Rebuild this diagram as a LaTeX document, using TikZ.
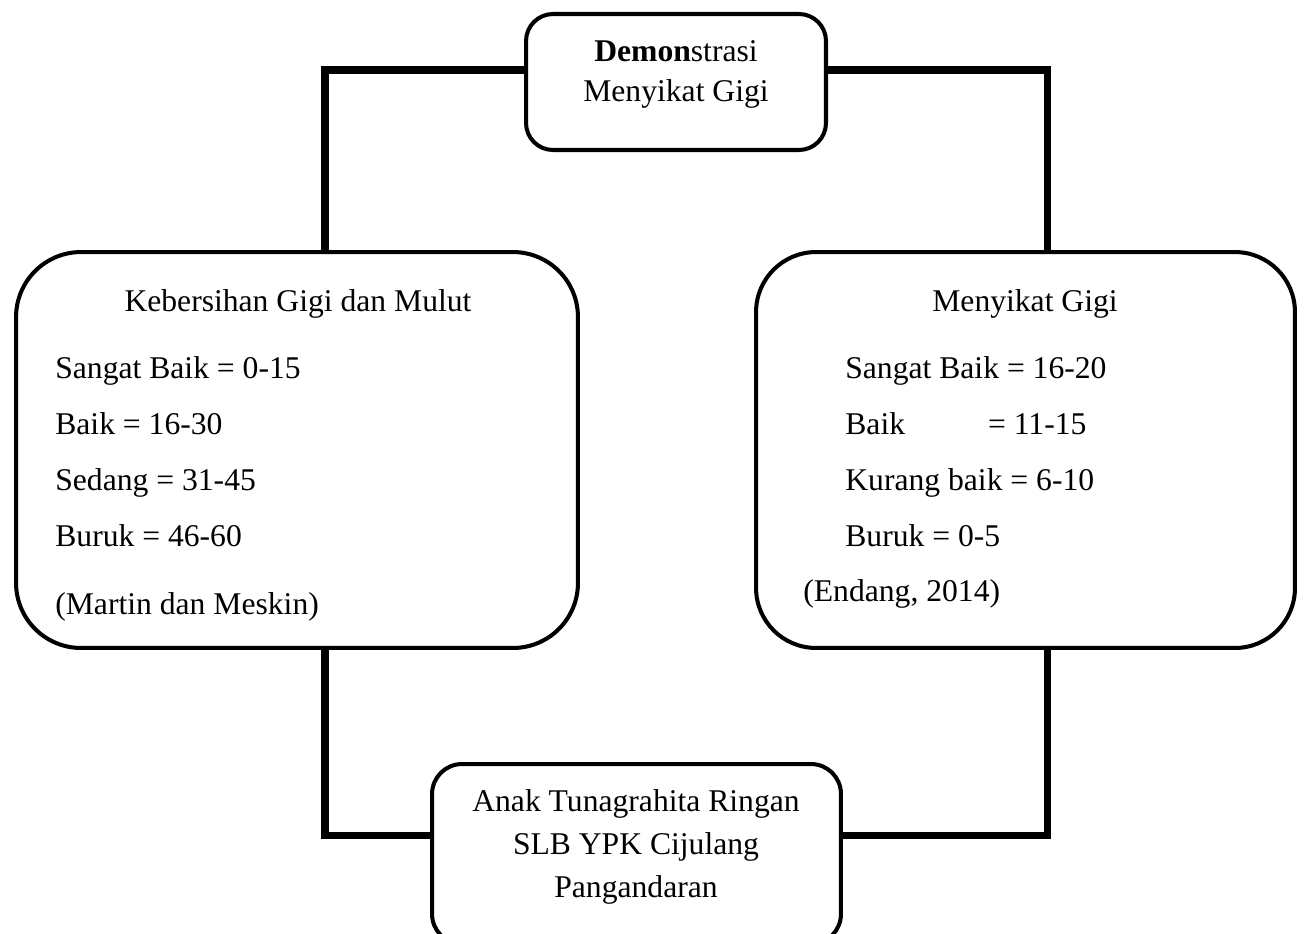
\documentclass[tikz,border=0pt]{standalone}
\usepackage{fontspec}
\setmainfont{Liberation Serif}
\usepackage{tikz}
\usetikzlibrary{positioning, calc}

\begin{document}
\begin{tikzpicture}[
    x=0.02cm, y=-0.02cm,
    block/.style={rectangle, draw, line width=2.3pt, inner sep=0pt},
    line/.style={draw, line width=4pt},
    txt/.style={inner sep=0pt, font=\fontsize{18pt}{22pt}\selectfont},
    item/.style={txt, anchor=base west},
    title/.style={txt, anchor=base}
]
\useasboundingbox (0,0) rectangle (1307,933);
\clip (0,0) rectangle (1307,933);

% Boxes
\node[block, minimum width=6.0cm, minimum height=2.72cm, rounded corners=0.54cm] (demo) at (676,82) {};
\node[block, minimum width=11.24cm, minimum height=7.92cm, rounded corners=1.3cm] (kgm) at (297,450) {};
\node[block, minimum width=10.78cm, minimum height=7.92cm, rounded corners=1.2cm] (sikat) at (1025.5,450) {};
\node[block, minimum width=8.18cm, minimum height=3.6cm, rounded corners=0.6cm] (anak) at (636.5,854) {};

% Texts
\node[title] (demo1) at (676,61) {\textbf{Demon}strasi};
\node[title] (demo2) at (676,101) {Menyikat Gigi};

\node[title] (kgm0) at (298,311) {Kebersihan Gigi dan Mulut};
\node[item] (kgm1) at (55,378) {Sangat Baik = 0-15};
\node[item] (kgm2) at (55,434) {Baik = 16-30};
\node[item] (kgm3) at (55,490) {Sedang = 31-45};
\node[item] (kgm4) at (55,546) {Buruk = 46-60};
\node[item] (kgm5) at (55,614) {(Martin dan Meskin)};

\node[title] (sikat0) at (1025,311) {Menyikat Gigi};
\node[item] (sikat1) at (845,378) {Sangat Baik = 16-20};
\node[item] (sikat2) at (845,434) {Baik\hspace{1.66cm}= 11-15};
\node[item] (sikat3) at (845,490) {Kurang baik = 6-10};
\node[item] (sikat4) at (845,546) {Buruk = 0-5};
\node[item] (sikat5) at (803,601) {(Endang, 2014)};

\node[title] (anak1) at (636,811) {Anak Tunagrahita Ringan};
\node[title] (anak2) at (636,854) {SLB YPK Cijulang};
\node[title] (anak3) at (636,897) {Pangandaran};

% Paths
\coordinate (tl) at (325,70);
\coordinate (tr) at (1047,70);
\coordinate (bl) at (325,835);
\coordinate (br) at (1047,835);
\path[line] (demo.west |- tl) -- (tl) -- (tl |- kgm.north);
\path[line] (demo.east |- tr) -- (tr) -- (tr |- sikat.north);
\path[line] (kgm.south -| bl) -- (bl) -- (bl -| anak.west);
\path[line] (sikat.south -| br) -- (br) -- (br -| anak.east);

\end{tikzpicture}
\end{document}
